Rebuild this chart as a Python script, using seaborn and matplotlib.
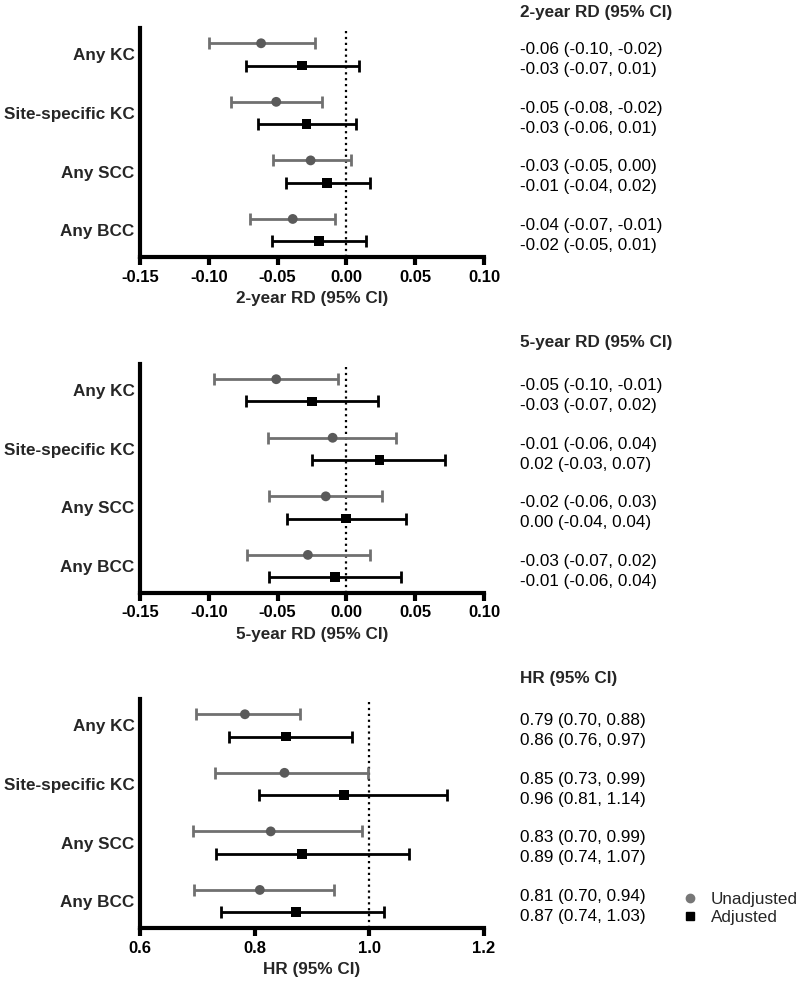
import pandas as pd
import seaborn as sns
import matplotlib.pyplot as plt
import matplotlib.transforms as mtransforms
from matplotlib.lines import Line2D

sns.set_style('ticks')
plt.rcParams['font.family'] = ['Liberation Sans', 'DejaVu Sans']

outcomes = ['Any KC', 'Site-specific KC', 'Any SCC', 'Any BCC']
models = ['Unadjusted', 'Adjusted']

# 2-year risk difference
rd2_unadj = [-0.062, -0.051, -0.026, -0.039]
rd2_unadj_lo = [-0.100, -0.084, -0.053, -0.070]
rd2_unadj_hi = [-0.023, -0.018, 0.003, -0.008]
rd2_adj = [-0.032, -0.029, -0.014, -0.020]
rd2_adj_lo = [-0.073, -0.064, -0.044, -0.054]
rd2_adj_hi = [0.009, 0.007, 0.017, 0.014]
rd2_text_unadj = ['-0.06 (-0.10, -0.02)', '-0.05 (-0.08, -0.02)',
                  '-0.03 (-0.05, 0.00)', '-0.04 (-0.07, -0.01)']
rd2_text_adj = ['-0.03 (-0.07, 0.01)', '-0.03 (-0.06, 0.01)',
                '-0.01 (-0.04, 0.02)', '-0.02 (-0.05, 0.01)']

# 5-year risk difference
rd5_unadj = [-0.051, -0.010, -0.015, -0.028]
rd5_unadj_lo = [-0.096, -0.057, -0.056, -0.072]
rd5_unadj_hi = [-0.006, 0.036, 0.026, 0.017]
rd5_adj = [-0.025, 0.024, 0.000, -0.008]
rd5_adj_lo = [-0.073, -0.025, -0.043, -0.056]
rd5_adj_hi = [0.023, 0.072, 0.043, 0.040]
rd5_text_unadj = ['-0.05 (-0.10, -0.01)', '-0.01 (-0.06, 0.04)',
                  '-0.02 (-0.06, 0.03)', '-0.03 (-0.07, 0.02)']
rd5_text_adj = ['-0.03 (-0.07, 0.02)', '0.02 (-0.03, 0.07)',
                '0.00 (-0.04, 0.04)', '-0.01 (-0.06, 0.04)']

# hazard ratio
hr_unadj = [0.783, 0.852, 0.828, 0.809]
hr_unadj_lo = [0.698, 0.730, 0.692, 0.694]
hr_unadj_hi = [0.879, 0.997, 0.988, 0.939]
hr_adj = [0.854, 0.956, 0.883, 0.872]
hr_adj_lo = [0.755, 0.807, 0.733, 0.741]
hr_adj_hi = [0.969, 1.135, 1.069, 1.026]
hr_text_unadj = ['0.79 (0.70, 0.88)', '0.85 (0.73, 0.99)',
                 '0.83 (0.70, 0.99)', '0.81 (0.70, 0.94)']
hr_text_adj = ['0.86 (0.76, 0.97)', '0.96 (0.81, 1.14)',
               '0.89 (0.74, 1.07)', '0.87 (0.74, 1.03)']

rd_ticks = [-0.15, -0.10, -0.05, 0.00, 0.05, 0.10]
rd_ticklabels = ['-0.15', '-0.10', '-0.05', '0.00', '0.05', '0.10']
hr_ticks = [0.6, 0.8, 1.0, 1.2]
hr_ticklabels = ['0.6', '0.8', '1.0', '1.2']

colors = {'Unadjusted': '#707070', 'Adjusted': '#000000'}
point_colors = {'Unadjusted': '#5a5a5a', 'Adjusted': '#000000'}
markers = {'Unadjusted': 'o', 'Adjusted': 's'}
offsets = {'Unadjusted': -0.19, 'Adjusted': 0.19}
text_offsets = {'Unadjusted': -0.08, 'Adjusted': 0.26}
FS = 12.3


def make_frame(unadj, unadj_lo, unadj_hi, adj, adj_lo, adj_hi, t_unadj, t_adj):
    rows = []
    for i, name in enumerate(outcomes):
        rows.append([name, 'Unadjusted', unadj[i], unadj_lo[i], unadj_hi[i], t_unadj[i], i])
        rows.append([name, 'Adjusted', adj[i], adj_lo[i], adj_hi[i], t_adj[i], i])
    df = pd.DataFrame(rows, columns=['Outcome', 'Model', 'Est', 'Lo', 'Hi', 'Text', 'Idx'])
    df['Pos'] = df['Idx'] + df['Model'].map(offsets)
    df['TextPos'] = df['Idx'] + df['Model'].map(text_offsets)
    return df


def draw_panel(fig, ax, df, ref, ticks, ticklabels, xlabel, header, header_y):
    ax.axvline(ref, color='black', ls=':', lw=1.6, zorder=1)
    for m in models:
        sub = df[df['Model'] == m]
        ax.errorbar(sub['Est'], sub['Pos'],
                    xerr=[sub['Est'] - sub['Lo'], sub['Hi'] - sub['Est']],
                    fmt='none', ecolor=colors[m], elinewidth=2, capsize=4,
                    capthick=2, zorder=2)
    sns.scatterplot(data=df, x='Est', y='Pos', hue='Model', style='Model',
                    palette=point_colors, markers=markers, s=50, linewidth=0,
                    legend=False, ax=ax, zorder=3)

    ax.set_xlim(ticks[0], ticks[-1])
    ax.set_ylim(3.46, -0.45)
    ax.set_xticks(ticks)
    ax.set_xticklabels(ticklabels, fontsize=12, fontweight='bold')
    ax.set_yticks(range(len(outcomes)))
    ax.set_yticklabels(outcomes, fontsize=FS, fontweight='bold')
    ax.set_xlabel(xlabel, fontsize=FS, fontweight='bold', labelpad=5)
    ax.set_ylabel('')
    ax.tick_params(axis='x', length=6, width=3, pad=3, colors='black')
    ax.tick_params(axis='y', length=0, pad=4)
    sns.despine(ax=ax)
    for s in ['left', 'bottom']:
        ax.spines[s].set_linewidth(3)
        ax.spines[s].set_color('black')

    # text column on the right
    trans = mtransforms.blended_transform_factory(fig.transFigure, ax.transData)
    for _, r in df.iterrows():
        ax.text(0.65, r['TextPos'], r['Text'], transform=trans, fontsize=FS,
                ha='left', va='center', color='black')
    trans_h = mtransforms.blended_transform_factory(fig.transFigure, ax.transAxes)
    ax.text(0.65, header_y, header, transform=trans_h, fontsize=FS,
            fontweight='bold', ha='left', va='center')


fig = plt.figure(figsize=(8, 9.84), dpi=100)
ax1 = fig.add_axes([0.175, 0.7388, 0.43, 0.2327])
ax2 = fig.add_axes([0.175, 0.3974, 0.43, 0.2327])
ax3 = fig.add_axes([0.175, 0.0569, 0.43, 0.2327])

df2 = make_frame(rd2_unadj, rd2_unadj_lo, rd2_unadj_hi, rd2_adj, rd2_adj_lo,
                 rd2_adj_hi, rd2_text_unadj, rd2_text_adj)
df5 = make_frame(rd5_unadj, rd5_unadj_lo, rd5_unadj_hi, rd5_adj, rd5_adj_lo,
                 rd5_adj_hi, rd5_text_unadj, rd5_text_adj)
dfh = make_frame(hr_unadj, hr_unadj_lo, hr_unadj_hi, hr_adj, hr_adj_lo,
                 hr_adj_hi, hr_text_unadj, hr_text_adj)

draw_panel(fig, ax1, df2, 0.0, rd_ticks, rd_ticklabels, '2-year RD (95% CI)',
           '2-year RD (95% CI)', 1.07)
draw_panel(fig, ax2, df5, 0.0, rd_ticks, rd_ticklabels, '5-year RD (95% CI)',
           '5-year RD (95% CI)', 1.095)
draw_panel(fig, ax3, dfh, 1.0, hr_ticks, hr_ticklabels, 'HR (95% CI)',
           'HR (95% CI)', 1.09)

handles = [Line2D([], [], ls='', marker='o', color='#777777', markersize=6),
           Line2D([], [], ls='', marker='s', color='black', markersize=5.5)]
fig.legend(handles, models, loc='center left', bbox_to_anchor=(0.852, 0.077),
           frameon=False, fontsize=FS, handlelength=1, handletextpad=0.7,
           labelspacing=0.15, borderpad=0, borderaxespad=0)

fig.savefig('out.png', dpi=100)
